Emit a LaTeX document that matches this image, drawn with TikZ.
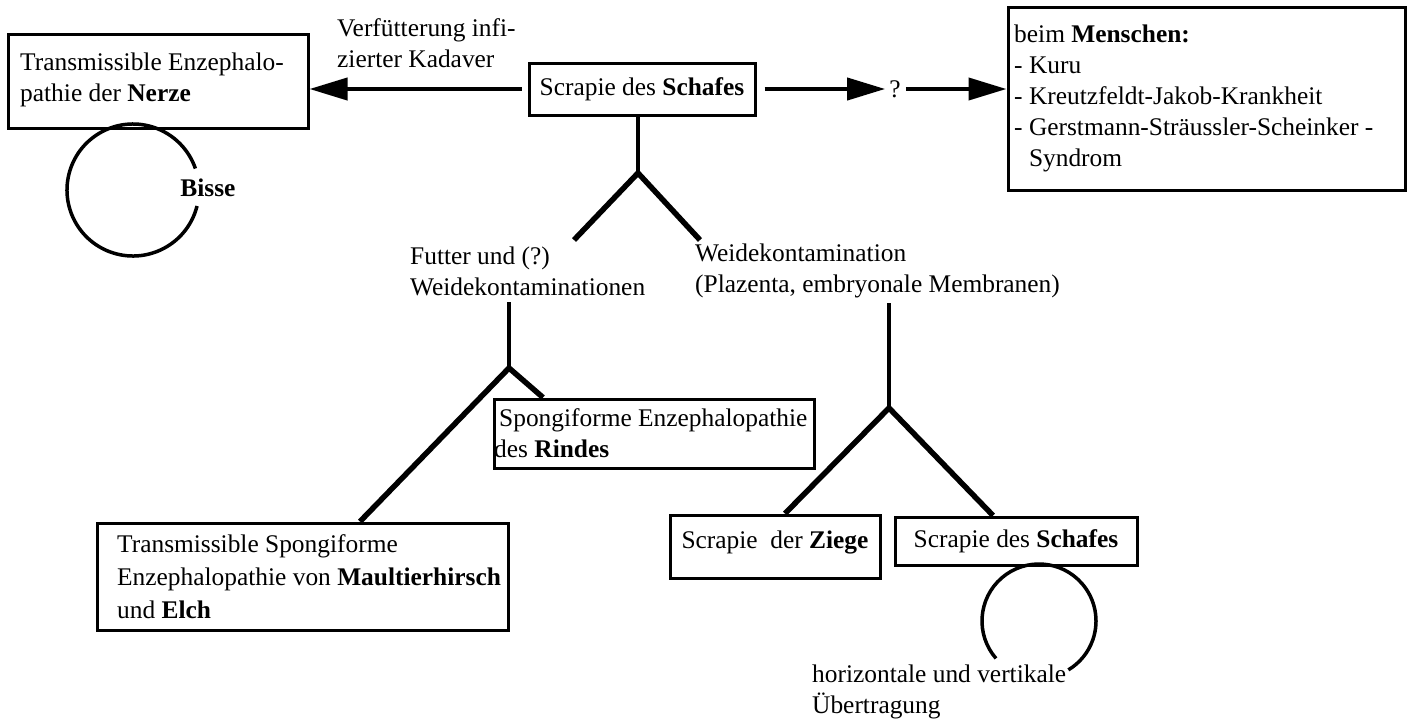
\documentclass[tikz,border=0pt]{standalone}
\usepackage{fontspec}
\setmainfont{Liberation Serif}
\usetikzlibrary{arrows.meta}
\begin{document}
\begin{tikzpicture}[x=1pt,y=-1pt,
  font=\fontsize{25.4}{31}\selectfont,
  box/.style={draw,line width=3pt,inner sep=0pt},
  lbl/.style={anchor=west,align=left,inner sep=0pt},
  arr/.style={line width=4pt,-{Triangle[length=38pt,width=22pt]}},
  stem/.style={line width=4.5pt},
  branch/.style={line width=5.5pt},
  selfloop/.style={line width=3.5pt}]
\useasboundingbox (0,0) rectangle (1411,721);

% boxes
\node[box,minimum width=300pt,minimum height=94pt] (nerze) at (158,81) {};
\node[lbl] (nerzetext) at (20,80) {Transmissible Enzephalo-\\pathie der \textbf{Nerze}};

\node[box,minimum width=226pt,minimum height=52pt] (schaf1) at (642,89) {Scrapie des \textbf{Schafes}};

\node[box,minimum width=397pt,minimum height=183pt] (human) at (1206.5,98.5) {};
\node[lbl] (humantext) at (1014,98) {beim \textbf{Menschen:}\\- Kuru\\- Kreutzfeldt-Jakob-Krankheit\\- Gerstmann-Sträussler-Scheinker -\\\phantom{- }Syndrom};

\node[box,minimum width=320pt,minimum height=69pt] (rindes) at (654,433.5) {};
\node[lbl] (rindestext) at (499,433) {Spongiforme Enzephalopathie\\\hspace*{-5pt}des \textbf{Rindes}};

\node[box,minimum width=411pt,minimum height=107pt] (maultier) at (302.5,576.5) {};
\node[lbl,font=\fontsize{25.4}{33}\selectfont] (maultiertext) at (117,577) {Transmissible Spongiforme\\Enzephalopathie von \textbf{Maultierhirsch}\\und \textbf{Elch}};

\node[box,minimum width=210pt,minimum height=63pt] (ziege) at (775,546.5) {};
\node (ziegetext) at (775,542) {Scrapie\ \ der \textbf{Ziege}};

\node[box,minimum width=242pt,minimum height=48pt] (schaf2) at (1016,541) {Scrapie des \textbf{Schafes}};

% labels
\node[lbl] (verf) at (337,43) {Verfütterung infi-\\zierter Kadaver};
\node[inner sep=0pt] (q) at (895,89) {?};
\node[lbl] (futter) at (410,271) {Futter und (?)\\Weidekontaminationen};
\node[lbl] (weide) at (695,271) {Weidekontamination\\(Plazenta, embryonale Membranen)};
\node[lbl] (horiz) at (812,692) {horizontale und vertikale\\Übertragung};
\node[inner sep=0pt] (bisse) at (208,188) {\textbf{Bisse}};

% arrows
\draw[arr,shorten <=6pt] (schaf1.west) -- (schaf1.west -| nerze.east);
\draw[arr,shorten <=8pt,shorten >=4pt] (schaf1.east) -- (schaf1.east -| q.west);
\draw[arr,shorten <=5pt] (schaf1.east -| q.east) -- (schaf1.east -| human.west);

% tree 1
\coordinate (a1) at (638,173);
\coordinate (b1l) at (574,240);
\coordinate (b1r) at (700,240);
\draw[stem] (schaf1.south -| a1) -- (a1);
\draw[branch] (a1) -- (b1l);
\draw[branch] (a1) -- (b1r);

% tree 2
\coordinate (t2) at (509,302);
\coordinate (a2) at (509,368);
\draw[stem] (t2) -- (a2);
\draw[branch] (a2) -- ([xshift=57.5pt]maultier.north);
\draw[branch] (a2) -- ([xshift=-111pt]rindes.north);

% tree 3
\coordinate (t3) at (889,303);
\coordinate (a3) at (889,408);
\draw[stem] (t3) -- (a3);
\draw[branch] (a3) -- ([xshift=10pt]ziege.north);
\draw[branch] (a3) -- ([xshift=-23pt]schaf2.north);

% self loops
\coordinate (c1) at (133,190);
\draw[selfloop] ([shift={(14:66)}]c1) arc[start angle=14,end angle=341,radius=66];
\coordinate (c2) at (1039,621);
\draw[selfloop] ([shift={(139:57)}]c2) arc[start angle=139,end angle=419,radius=57];
\end{tikzpicture}
\end{document}
